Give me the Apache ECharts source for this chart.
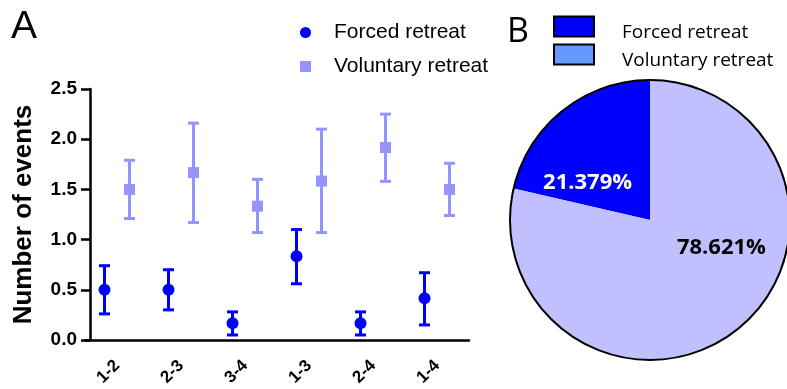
<!DOCTYPE html>
<html>
<head>
<meta charset="utf-8">
<script src="https://cdn.jsdelivr.net/npm/echarts@6/dist/echarts.min.js"></script>
<style>
  html, body { margin: 0; padding: 0; background: #fff; }
  #chart { width: 787px; height: 389px; }
</style>
</head>
<body>
<div id="chart"></div>
<script>
// values
const categories = ['1-2', '2-3', '3-4', '1-3', '2-4', '1-4'];
const forcedMean = [0.5, 0.5, 0.167, 0.833, 0.167, 0.417];
const forcedLow = [0.26, 0.30, 0.05, 0.56, 0.05, 0.15];
const forcedHigh = [0.74, 0.70, 0.28, 1.10, 0.28, 0.67];
const voluntaryMean = [1.5, 1.667, 1.333, 1.583, 1.917, 1.5];
const voluntaryLow = [1.21, 1.17, 1.07, 1.07, 1.58, 1.24];
const voluntaryHigh = [1.79, 2.16, 1.60, 2.10, 2.25, 1.76];
const yTicks = [0, 0.5, 1.0, 1.5, 2.0, 2.5];
const seriesNames = ['Forced retreat', 'Voluntary retreat'];
const pieShares = [21.379, 78.621];

const FORCED = '#0000ff';
const VOLUNTARY = '#9494ff';
const DODGE = 0.195;
const FONT = 'Liberation Sans, Arial, sans-serif';
const FONT_B = 'Open Sans, sans-serif';

const chart = echarts.init(document.getElementById('chart'));

// error bar drawn through the axes: x, low, high
function errorBar(color) {
  return function (params, api) {
    const x = api.value(0);
    const top = api.coord([x, api.value(2)]);
    const bot = api.coord([x, api.value(1)]);
    const half = 5.5;
    const style = { stroke: color, lineWidth: 3 };
    return {
      type: 'group',
      children: [
        { type: 'line', shape: { x1: top[0], y1: top[1], x2: bot[0], y2: bot[1] }, style },
        { type: 'line', shape: { x1: top[0] - half, y1: top[1], x2: top[0] + half, y2: top[1] }, style },
        { type: 'line', shape: { x1: bot[0] - half, y1: bot[1], x2: bot[0] + half, y2: bot[1] }, style }
      ]
    };
  };
}

const pos = (i, sign) => i + sign * DODGE;
const forcedPts = forcedMean.map((v, i) => [pos(i, -1), v]);
const voluntaryPts = voluntaryMean.map((v, i) => [pos(i, 1), v]);
const forcedBars = forcedMean.map((v, i) => [pos(i, -1), forcedLow[i], forcedHigh[i]]);
const voluntaryBars = voluntaryMean.map((v, i) => [pos(i, 1), voluntaryLow[i], voluntaryHigh[i]]);
const pieTotal = pieShares.reduce((a, b) => a + b, 0);

const option = {
  animation: false,
  title: [
    { text: 'A', left: 11, top: 8, padding: 0, textStyle: { fontSize: 39, fontWeight: 'normal', fontFamily: FONT, color: '#000' } },
    { text: 'B', left: 507, top: 15, padding: 0, textStyle: { fontSize: 34, fontWeight: 'normal', fontFamily: FONT_B, color: '#000' } }
  ],
  legend: [
    {
      orient: 'vertical',
      left: 300,
      top: 22,
      padding: 0,
      itemWidth: 11,
      itemHeight: 11,
      itemGap: 13,
      selectedMode: false,
      data: [
        { name: seriesNames[0], icon: 'circle' },
        { name: seriesNames[1], icon: 'rect' }
      ],
      textStyle: { fontSize: 21, lineHeight: 20, fontFamily: FONT, color: '#000', padding: [0, 0, 0, 18] }
    },
    {
      orient: 'vertical',
      left: 553,
      top: 11,
      padding: 0,
      itemWidth: 40,
      itemHeight: 20,
      itemGap: -3,
      selectedMode: false,
      formatter: '{t|{name}}',
      data: [
        { name: seriesNames[0], icon: 'rect', itemStyle: { color: FORCED, borderColor: '#000', borderWidth: 2 } },
        { name: seriesNames[1], icon: 'rect', itemStyle: { color: '#6699ff', borderColor: '#000', borderWidth: 2 } }
      ],
      textStyle: {
        fontSize: 19, lineHeight: 20, fontFamily: FONT_B, color: '#000', padding: [0, 0, 0, 23],
        rich: { t: { fontSize: 19, lineHeight: 20, fontFamily: FONT_B, color: '#000', padding: [12, 0, 0, 0] } }
      }
    }
  ],
  grid: { left: 85, top: 89, width: 384, height: 251 },
  xAxis: [
    {
      type: 'category',
      data: categories,
      axisLine: { lineStyle: { color: '#000', width: 2.5 } },
      axisTick: { alignWithLabel: true, length: 10, lineStyle: { color: '#000', width: 2.5 } },
      axisLabel: { rotate: 45, margin: 23, fontSize: 17, fontWeight: 'bold', fontFamily: FONT, color: '#000' },
      splitLine: { show: false }
    },
    { type: 'value', min: -0.5, max: 5.5, show: false }
  ],
  yAxis: {
    type: 'value',
    min: yTicks[0],
    max: yTicks[yTicks.length - 1],
    interval: 0.5,
    offset: -5,
    name: 'Number of events',
    nameLocation: 'middle',
    nameGap: 53,
    nameTextStyle: { fontSize: 26, fontWeight: 'bold', fontFamily: FONT, color: '#000' },
    axisLine: { show: true, onZero: false, lineStyle: { color: '#000', width: 2.5 } },
    axisTick: { show: true, length: 9, lineStyle: { color: '#000', width: 2.5 } },
    axisLabel: { margin: 13, fontSize: 19, fontWeight: 'bold', fontFamily: FONT, color: '#000', formatter: v => v.toFixed(1) },
    splitLine: { show: false }
  },
  series: [
    { type: 'custom', name: 'forced-err', xAxisIndex: 1, renderItem: errorBar(FORCED), data: forcedBars, encode: { x: 0, y: [1, 2] }, z: 2, silent: true },
    { type: 'custom', name: 'voluntary-err', xAxisIndex: 1, renderItem: errorBar(VOLUNTARY), data: voluntaryBars, encode: { x: 0, y: [1, 2] }, z: 2, silent: true },
    { type: 'scatter', name: seriesNames[0], xAxisIndex: 1, symbol: 'circle', symbolSize: 12, itemStyle: { color: FORCED, opacity: 1 }, data: forcedPts, z: 3 },
    { type: 'scatter', name: seriesNames[1], xAxisIndex: 1, symbol: 'rect', symbolSize: 11, itemStyle: { color: VOLUNTARY, opacity: 1 }, data: voluntaryPts, z: 3 },
    {
      type: 'pie',
      center: [650, 220],
      radius: 140,
      startAngle: 90,
      clockwise: false,
      silent: true,
      labelLine: { show: false },
      data: [
        {
          name: seriesNames[0], value: pieShares[0],
          itemStyle: { color: FORCED },
          label: { formatter: '{w|{c}%}', rich: { w: { color: '#fff', padding: [40, 34, 0, 0] } } }
        },
        {
          name: seriesNames[1], value: pieShares[1],
          itemStyle: { color: '#c0c0ff' },
          label: { formatter: '{k|{c}%}', rich: { k: { color: '#000', padding: [0, 0, 58, 52] } } }
        }
      ],
      label: {
        show: true,
        position: 'inside',
        fontSize: 22,
        fontWeight: 'bold',
        fontFamily: FONT_B
      }
    },
    {
      type: 'pie',
      name: 'outline',
      center: [650, 220],
      radius: 140,
      silent: true,
      label: { show: false },
      labelLine: { show: false },
      itemStyle: { color: 'rgba(0,0,0,0)', borderColor: '#000', borderWidth: 2 },
      data: [{ name: 'outline', value: pieTotal }],
      z: 3
    }
  ]
};

chart.setOption(option);
</script>
</body>
</html>
